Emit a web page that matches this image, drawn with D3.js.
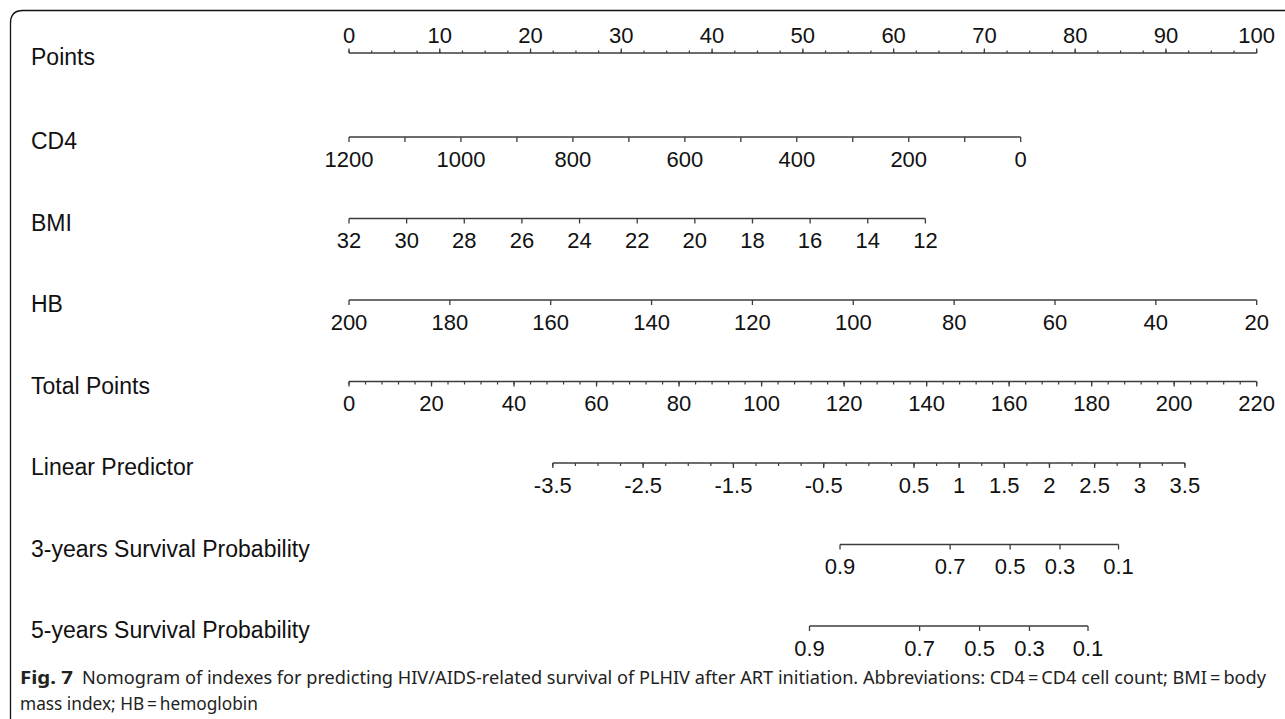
<!DOCTYPE html>
<html>
<head>
<meta charset="utf-8">
<script src="https://cdn.jsdelivr.net/npm/d3@7"></script>
<style>
  html, body { margin: 0; padding: 0; background: #fff; }
  svg { display: block; }
  .lab { font-family: "Liberation Sans", Arial, sans-serif; font-size: 22px; fill: #111; }
  .row { font-size: 23px; }
  .cap { font-family: "Noto Sans", "Open Sans", sans-serif; font-size: 18px; fill: #222; }
</style>
</head>
<body>
<svg id="chart" width="1285" height="719"></svg>
<script>
// ---- Nomogram contents ----
const rowNames = ["Points", "CD4", "BMI", "HB", "Total Points", "Linear Predictor",
                  "3-years Survival Probability", "5-years Survival Probability"];

// Points scale
const pointsLabels = [0, 10, 20, 30, 40, 50, 60, 70, 80, 90, 100];
const pointsMinorStep = 2.5;

// CD4 cell count: value range and the points at each end
const cd4Labels = [1200, 1000, 800, 600, 400, 200, 0];
const cd4TickStep = 100;
const cd4Range = [1200, 0];
const cd4Points = [0, 74];

// Body mass index
const bmiLabels = [32, 30, 28, 26, 24, 22, 20, 18, 16, 14, 12];
const bmiRange = [32, 12];
const bmiPoints = [0, 63.5];

// Hemoglobin
const hbLabels = [200, 180, 160, 140, 120, 100, 80, 60, 40, 20];
const hbRange = [200, 20];
const hbPoints = [0, 100];

// Total points
const totalLabels = [0, 20, 40, 60, 80, 100, 120, 140, 160, 180, 200, 220];
const totalMinorStep = 4;

// Linear predictor and its position on the total points scale
const lpLabels = [-3.5, -2.5, -1.5, -0.5, 0.5, 1, 1.5, 2, 2.5, 3, 3.5];
const lpMinorStep = 0.25;
const lpRange = [-3.5, 3.5];
const lpTotal = [49.4, 202.6];

// Survival probabilities (Cox model, baseline survival at 3 and 5 years)
const survLabels = [0.9, 0.7, 0.5, 0.3, 0.1];
const baselineSurv3 = 0.865;
const baselineSurv5 = 0.816;

const captionBold = "Fig. 7";
const captionLine1 = "Nomogram of indexes for predicting HIV/AIDS-related survival of PLHIV after ART initiation. Abbreviations: CD4\u2009=\u2009CD4 cell count; BMI\u2009=\u2009body";
const captionLine2 = "mass index; HB\u2009=\u2009hemoglobin";

// ---- Layout ----
const svg = d3.select("#chart");
const xLeft = 349, xRight = 1256.7;
const labelX = 31;

// points -> pixels
const xPoints = d3.scaleLinear().domain([0, 100]).range([xLeft, xRight]);
// each predictor -> points
const cd4ToPts = d3.scaleLinear().domain(cd4Range).range(cd4Points);
const bmiToPts = d3.scaleLinear().domain(bmiRange).range(bmiPoints);
const hbToPts = d3.scaleLinear().domain(hbRange).range(hbPoints);
// total points -> pixels
const xTotal = d3.scaleLinear().domain([0, 220]).range([xLeft, xRight]);
// linear predictor -> total points
const lpToTotal = d3.scaleLinear().domain(lpRange).range(lpTotal);
// survival probability -> linear predictor
const survToLp = s0 => s => Math.log(Math.log(s) / Math.log(s0));

// row vertical positions
const yRow = d3.scaleLinear().domain([1, 7]).range([137, 626]);
const rowY = i => (i === 0 ? 53 : yRow(i));

const axisColor = "#3c3c3c";
const g = svg.append("g");

// frame: top and left rules with a rounded corner
svg.append("path")
  .attr("d", "M10.5,719 L10.5,23 Q10.5,10.5 23,10.5 L1285,10.5")
  .attr("fill", "none").attr("stroke", "#111").attr("stroke-width", 1.3);

// row titles
g.selectAll("text.row").data(rowNames).join("text")
  .attr("class", "lab row")
  .attr("x", labelX)
  .attr("y", (d, i) => rowY(i) + 4)
  .attr("dominant-baseline", "central")
  .text(d => d);

// generic axis row
function drawRow(y, opts) {
  const row = g.append("g");
  const [x0, x1] = opts.extent;
  row.append("line")
    .attr("x1", x0).attr("x2", x1).attr("y1", y).attr("y2", y)
    .attr("stroke", axisColor).attr("stroke-width", 1.3);
  const dir = opts.up ? -1 : 1;
  if (opts.minor) {
    row.selectAll("line.minor").data(opts.minor).join("line")
      .attr("x1", d => d).attr("x2", d => d)
      .attr("y1", y).attr("y2", y + dir * opts.minorLen)
      .attr("stroke", axisColor).attr("stroke-width", 1.2);
  }
  row.selectAll("line.major").data(opts.major).join("line")
    .attr("x1", d => d.x).attr("x2", d => d.x)
    .attr("y1", y).attr("y2", y + dir * opts.majorLen)
    .attr("stroke", axisColor).attr("stroke-width", 1.3);
  row.selectAll("text").data(opts.major.filter(d => d.label !== null)).join("text")
    .attr("class", "lab")
    .attr("x", d => d.x)
    .attr("y", y + (opts.up ? -18 : 22))
    .attr("text-anchor", "middle")
    .attr("dominant-baseline", "central")
    .text(d => d.label);
}

// Points
drawRow(rowY(0), {
  extent: [xPoints(0), xPoints(100)],
  up: true, majorLen: 4.5, minorLen: 2.5,
  major: pointsLabels.map(v => ({ x: xPoints(v), label: v })),
  minor: d3.range(0, 100 + 1e-9, pointsMinorStep).map(v => xPoints(v))
});

// CD4
drawRow(rowY(1), {
  extent: [xPoints(cd4ToPts(cd4Range[0])), xPoints(cd4ToPts(cd4Range[1]))],
  majorLen: 5,
  major: d3.range(cd4Range[0], cd4Range[1] - 1, -cd4TickStep).map(v => ({
    x: xPoints(cd4ToPts(v)), label: cd4Labels.includes(v) ? v : null
  }))
});

// BMI
drawRow(rowY(2), {
  extent: [xPoints(bmiToPts(bmiRange[0])), xPoints(bmiToPts(bmiRange[1]))],
  majorLen: 5,
  major: bmiLabels.map(v => ({ x: xPoints(bmiToPts(v)), label: v }))
});

// HB
drawRow(rowY(3), {
  extent: [xPoints(hbToPts(hbRange[0])), xPoints(hbToPts(hbRange[1]))],
  majorLen: 5,
  major: hbLabels.map(v => ({ x: xPoints(hbToPts(v)), label: v }))
});

// Total points
drawRow(rowY(4), {
  extent: [xTotal(0), xTotal(220)],
  majorLen: 5, minorLen: 3,
  major: totalLabels.map(v => ({ x: xTotal(v), label: v })),
  minor: d3.range(0, 220 + 1e-9, totalMinorStep).map(v => xTotal(v))
});

// Linear predictor
drawRow(rowY(5), {
  extent: [xTotal(lpToTotal(lpRange[0])), xTotal(lpToTotal(lpRange[1]))],
  majorLen: 5, minorLen: 3,
  major: lpLabels.map(v => ({ x: xTotal(lpToTotal(v)), label: v })),
  minor: d3.range(lpRange[0], lpRange[1] + 1e-9, lpMinorStep).map(v => xTotal(lpToTotal(v)))
});

// Survival probabilities
[[6, baselineSurv3], [7, baselineSurv5]].forEach(([row, s0]) => {
  const toLp = survToLp(s0);
  const xs = s => xTotal(lpToTotal(toLp(s)));
  drawRow(rowY(row), {
    extent: [xs(survLabels[0]), xs(survLabels[survLabels.length - 1])],
    majorLen: 5,
    major: survLabels.map(v => ({ x: xs(v), label: v }))
  });
});

// caption
const cap = svg.append("g");
cap.append("text").attr("class", "cap")
  .attr("x", 20).attr("y", 677).attr("dominant-baseline", "central")
  .attr("font-weight", "bold")
  .attr("textLength", 53).attr("lengthAdjust", "spacingAndGlyphs")
  .text(captionBold);
cap.append("text").attr("class", "cap")
  .attr("x", 82).attr("y", 677).attr("dominant-baseline", "central")
  .attr("textLength", 1184).attr("lengthAdjust", "spacingAndGlyphs")
  .text(captionLine1);
cap.append("text").attr("class", "cap")
  .attr("x", 20).attr("y", 703).attr("dominant-baseline", "central")
  .attr("textLength", 238).attr("lengthAdjust", "spacingAndGlyphs")
  .text(captionLine2);
</script>
</body>
</html>
